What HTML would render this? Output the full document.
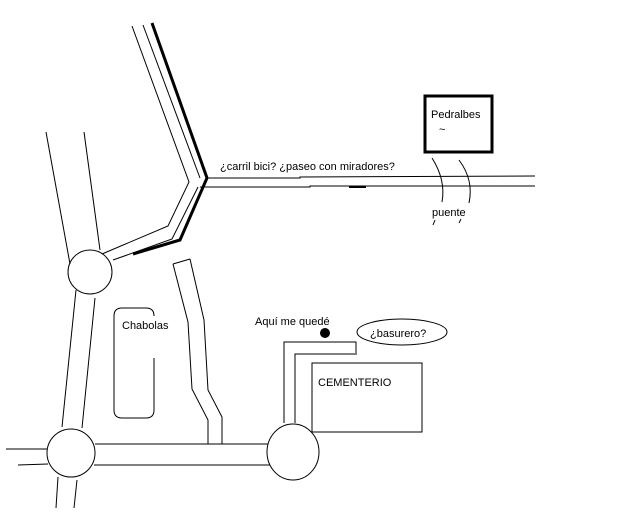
<!DOCTYPE html>
<html><head><meta charset="utf-8"><style>
html,body{margin:0;padding:0;background:#fff;}
svg{display:block;}
text{font-family:"Liberation Sans",sans-serif;font-size:11px;fill:#000;}
</style></head><body>
<svg width="640" height="512" viewBox="0 0 640 512" xmlns="http://www.w3.org/2000/svg">
<g fill="none" stroke="#000" stroke-width="1">
<!-- diagonal road -->
<polyline points="132,26 189,182 168,226 102,254"/>
<polyline points="143,25 200,178"/>
<polyline points="113,260 172,239 198,187"/>
<polyline points="152,23 207,178 180,240 133,254" stroke-width="3"/>
<!-- horizontal top road -->
<polyline points="207,178 300,178 300,177 535,176"/>
<polyline points="200,187 310,187 310,186 535,186"/>
<line x1="349" y1="187" x2="366" y2="187" stroke-width="2"/>
<!-- circle 1 and roads -->
<circle cx="90" cy="272" r="22"/>
<line x1="46" y1="132" x2="70" y2="264"/>
<line x1="84" y1="132" x2="100" y2="250"/>
<line x1="76" y1="290" x2="62" y2="427"/>
<line x1="95" y1="298" x2="82" y2="428"/>
<!-- circle 2 -->
<circle cx="71" cy="453" r="24"/>
<line x1="58" y1="477" x2="56" y2="508"/>
<line x1="77" y1="480" x2="74" y2="508"/>
<line x1="6" y1="449" x2="47" y2="449"/>
<line x1="18" y1="465" x2="48" y2="464"/>
<line x1="95" y1="444" x2="268" y2="444"/>
<line x1="94" y1="465" x2="270" y2="465"/>
<!-- circle 3 -->
<ellipse cx="293" cy="452" rx="26" ry="28"/>
<!-- chabolas -->
<path d="M154,316 Q154,308 146,308 L122,308 Q114,308 114,316 L114,410 Q114,418 122,418 L146,418 Q154,418 154,410 L154,358"/>
<!-- vertical road -->
<polyline points="173,264 188,322 192,389 208,420 208,444"/>
<polyline points="190,259 204,320 208,390 222,417 222,444"/>
<line x1="173" y1="264" x2="190" y2="259"/>
<!-- paths near cementerio -->
<polyline points="284,423 284,342 356,342 356,353"/>
<polyline points="295,423 295,354 357,354"/>
<rect x="312" y="363" width="110" height="69"/>
<ellipse cx="402" cy="332" rx="45" ry="13"/>
<!-- pedralbes -->
<rect x="425" y="96" width="67" height="56" stroke-width="3"/>
<path d="M432,158 Q446,180 442,202"/>
<path d="M459,160 Q474,180 469,203"/>
<line x1="433" y1="225" x2="435" y2="220"/>
<line x1="459" y1="223" x2="461" y2="219"/>
</g>
<ellipse cx="325" cy="333" rx="5" ry="5" fill="#000"/>
<text x="220" y="170">¿carril bici? ¿paseo con miradores?</text>
<text x="431" y="118">Pedralbes</text>
<text x="439" y="133">~</text>
<text x="432" y="216">puente</text>
<text x="122" y="329">Chabolas</text>
<text x="255" y="325">Aquí me quedé</text>
<text x="370" y="337">¿basurero?</text>
<text x="318" y="386">CEMENTERIO</text>
</svg>
</body></html>
